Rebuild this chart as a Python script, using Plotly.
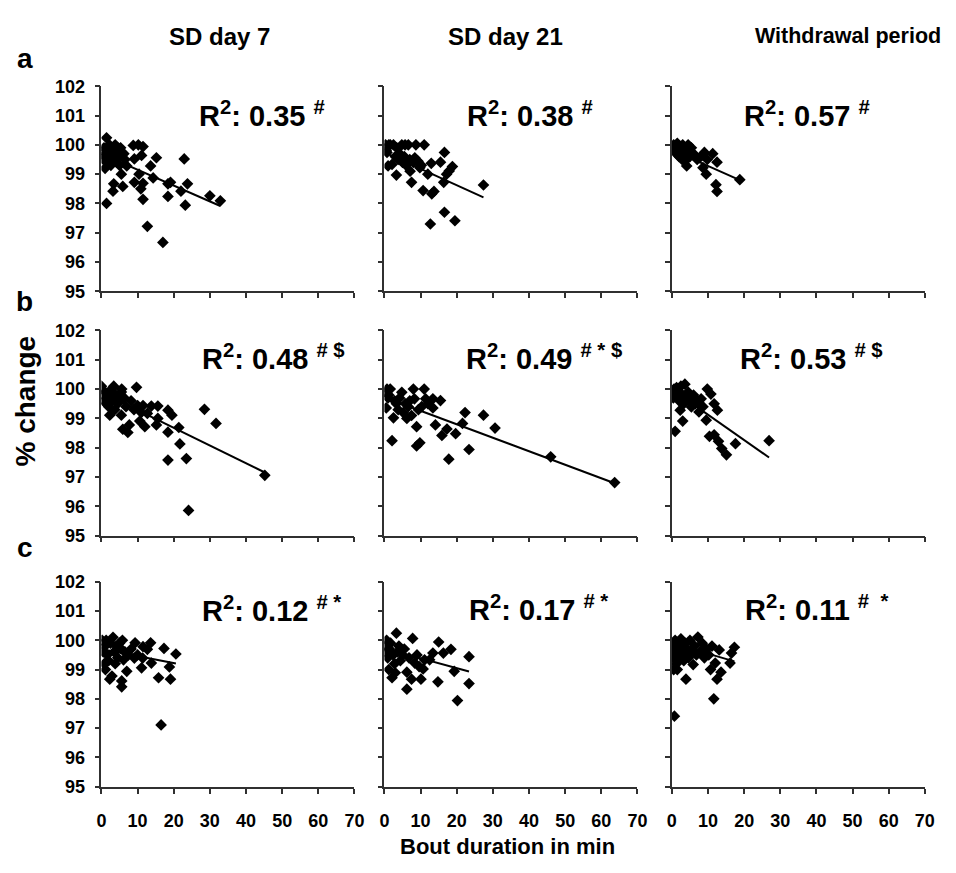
import numpy as np
import plotly.graph_objects as go

# ---- Bout duration (min) vs % change, per condition ----
# Row a
a_sd7_x = [0.3, 0.5, 0.7, 0.9, 1.0, 1.2, 1.4, 1.4, 1.6, 1.8, 2.0, 2.2, 2.4, 2.6, 2.8, 3.0, 3.2, 3.4, 3.5, 3.8,
           4.0, 4.2, 4.5, 4.8, 5.0, 5.3, 5.5, 5.9, 6.2, 6.5, 7.0, 8.8, 9.1, 9.1, 10.2, 10.4, 10.9, 11.1, 11.5, 11.5,
           11.5, 12.7, 13.6, 14.3, 15.2, 17.0, 18.4, 18.4, 19.1, 22.0, 22.9, 23.2, 23.8, 30.0, 32.9]
a_sd7_y = [99.8, 99.5, 99.9, 99.6, 99.2, 99.7, 100.24, 98.0, 99.9, 99.4, 99.8, 100.0, 99.6, 99.3, 99.9, 99.7, 98.42,
           98.67, 99.5, 100.0, 99.8, 99.4, 99.9, 99.6, 99.3, 99.9, 99.0, 98.58, 99.7, 99.5, 99.28, 99.98, 99.52, 98.72,
           100.0, 99.0, 98.5, 99.64, 99.94, 98.69, 98.14, 97.22, 99.28, 98.87, 99.56, 96.67, 98.67, 98.24, 98.72,
           98.42, 99.52, 97.94, 98.67, 98.26, 98.09]

a_sd21_x = [0.3, 0.5, 0.7, 1.0, 1.2, 1.6, 2.1, 2.5, 3.0, 3.3, 3.4, 3.8, 4.2, 4.8, 5.0, 5.5, 5.7, 6.0, 6.6, 7.0,
            7.1, 7.5, 8.0, 8.4, 8.7, 9.3, 9.8, 10.2, 10.7, 11.0, 12.0, 12.7, 12.95, 13.1, 13.7, 15.5, 16.4, 16.6,
            16.6, 17.2, 17.9, 18.8, 19.5, 27.4]
a_sd21_y = [100.0, 99.8, 99.74, 99.28, 100.0, 100.0, 99.33, 100.0, 99.6, 98.97, 99.9, 99.5, 99.7, 100.0, 99.4, 99.6,
            100.0, 99.3, 100.0, 99.5, 99.1, 98.72, 99.4, 99.56, 100.0, 99.44, 99.22, 99.3, 98.44, 100.0, 99.0, 97.3,
            99.37, 98.33, 98.41, 99.41, 98.72, 99.74, 97.7, 99.0, 99.11, 99.26, 97.41, 98.63]

a_wd_x = [0.3, 0.5, 0.7, 1.0, 1.2, 1.5, 1.8, 2.0, 2.2, 2.5, 2.8, 3.0, 3.3, 3.6, 4.1, 4.3, 4.5, 5.0, 5.4, 6.0,
          7.0, 7.7, 8.6, 9.0, 9.5, 9.8, 11.3, 12.2, 12.5, 12.5, 18.8]
a_wd_y = [99.9, 100.0, 99.8, 99.95, 99.7, 100.05, 99.85, 99.6, 99.9, 99.75, 99.5, 100.0, 99.65, 99.44, 99.28, 99.8,
          100.0, 99.6, 99.9, 99.7, 99.5, 99.56, 99.22, 99.74, 99.0, 99.5, 99.7, 98.64, 99.41, 98.41, 98.81]

# Row b
b_sd7_x = [0.0, 0.4, 0.7, 1.0, 1.3, 1.6, 2.0, 2.3, 2.5, 2.8, 3.0, 3.4, 3.7, 4.0, 4.5, 5.0, 5.5, 5.5, 5.6, 5.9,
           6.3, 6.8, 7.3, 7.7, 8.2, 9.0, 9.7, 10.0, 10.6, 11.0, 11.5, 12.0, 12.7, 13.8, 15.2, 15.6, 15.6, 18.4,
           18.4, 18.4, 19.5, 21.4, 21.7, 23.5, 24.1, 28.5, 31.7, 45.2]
b_sd7_y = [100.1, 99.8, 99.6, 99.9, 99.5, 99.7, 99.4, 99.11, 99.9, 100.0, 99.6, 100.1, 99.3, 99.8, 99.5, 99.61,
           99.11, 99.9, 100.0, 98.63, 99.7, 99.4, 98.52, 98.78, 99.6, 99.3, 100.06, 99.44, 98.91, 99.2, 99.44, 98.72,
           99.17, 99.42, 98.78, 99.42, 99.0, 99.28, 98.53, 97.58, 99.11, 98.69, 98.13, 97.63, 95.86, 99.31, 98.83,
           97.06]

b_sd21_x = [0.3, 0.5, 0.7, 1.0, 1.2, 1.6, 2.1, 2.5, 2.8, 3.3, 3.8, 4.2, 4.8, 5.2, 5.8, 6.2, 6.6, 7.0, 7.5, 8.0,
            8.3, 8.9, 8.9, 9.4, 9.8, 10.3, 11.0, 11.4, 12.0, 13.4, 13.4, 14.1, 15.5, 15.9, 17.3, 17.8, 19.7, 21.6,
            22.3, 23.4, 27.4, 30.6, 46.0, 63.7]
b_sd21_y = [99.9, 99.36, 100.0, 99.7, 99.8, 100.0, 98.24, 99.02, 99.6, 99.5, 99.3, 99.7, 99.89, 99.2, 99.5, 99.0,
            99.4, 99.6, 99.1, 100.0, 99.67, 98.72, 98.06, 99.3, 98.17, 99.4, 100.0, 99.67, 99.5, 99.67, 99.36, 98.78,
            99.61, 98.42, 98.64, 97.61, 98.48, 98.83, 99.2, 97.94, 99.11, 98.67, 97.69, 96.81]

b_wd_x = [0.2, 0.4, 0.6, 0.9, 1.0, 1.3, 1.6, 2.0, 2.3, 2.5, 3.0, 3.0, 3.3, 3.6, 4.0, 4.5, 5.0, 5.4, 6.0, 6.5,
          7.0, 7.5, 8.1, 8.6, 9.5, 9.8, 10.4, 10.8, 11.7, 11.7, 12.6, 12.9, 13.8, 15.1, 17.6, 26.9]
b_wd_y = [99.9, 99.7, 100.0, 98.56, 99.8, 100.05, 99.9, 99.6, 99.28, 100.1, 98.91, 99.8, 99.5, 100.17, 99.7, 99.9,
          99.6, 99.39, 99.8, 99.5, 99.6, 99.22, 99.67, 99.4, 98.94, 100.0, 98.39, 99.83, 98.44, 99.5, 99.28, 98.22,
          97.97, 97.76, 98.14, 98.24]

# Row c
c_sd7_x = [0.2, 0.5, 0.8, 1.0, 1.1, 1.3, 1.6, 2.0, 2.3, 2.5, 2.9, 3.2, 3.5, 3.8, 4.1, 4.5, 5.0, 5.5, 5.6, 5.6,
           5.8, 6.1, 6.5, 7.0, 7.5, 8.2, 9.1, 9.3, 10.0, 11.1, 11.4, 11.5, 12.7, 13.6, 13.8, 15.8, 16.5, 17.3,
           18.8, 19.1, 20.6]
c_sd7_y = [100.0, 99.6, 99.2, 99.8, 99.0, 100.0, 99.5, 99.3, 98.67, 99.9, 98.78, 100.1, 99.6, 99.2, 99.8, 99.4,
           99.9, 99.7, 98.61, 98.41, 100.0, 99.33, 99.6, 98.94, 99.5, 99.7, 99.39, 99.91, 99.5, 99.06, 99.39, 99.78,
           99.69, 99.91, 99.22, 98.72, 97.11, 99.72, 99.09, 98.67, 99.53]

c_sd21_x = [0.2, 0.4, 0.6, 0.9, 1.2, 1.4, 1.7, 2.1, 2.4, 2.8, 3.0, 3.3, 3.6, 4.0, 4.4, 5.0, 5.5, 6.2, 6.2, 6.8,
            7.5, 7.8, 8.4, 9.0, 9.6, 10.1, 10.7, 11.1, 12.5, 13.4, 14.8, 15.0, 16.3, 18.4, 19.3, 20.2, 23.4, 23.4]
c_sd21_y = [99.8, 99.6, 100.0, 99.4, 99.0, 99.7, 99.9, 98.72, 99.5, 99.2, 98.89, 100.24, 99.6, 99.8, 99.3, 99.5,
            99.7, 98.33, 98.91, 99.4, 98.67, 100.06, 99.22, 99.5, 99.1, 98.67, 99.02, 99.33, 99.33, 99.56, 98.58,
            99.94, 99.56, 99.69, 98.94, 97.94, 99.44, 98.52]

c_wd_x = [0.2, 0.4, 0.5, 0.7, 0.9, 1.1, 1.3, 1.5, 1.7, 2.0, 2.2, 2.5, 2.8, 3.0, 3.3, 3.6, 3.9, 4.2, 4.6, 5.0,
          5.4, 5.9, 6.3, 6.8, 7.2, 7.8, 8.4, 9.0, 9.6, 10.2, 10.7, 11.1, 11.6, 12.0, 12.5, 13.1, 13.6, 16.1, 16.5,
          17.3]
c_wd_y = [99.8, 99.4, 99.0, 97.41, 100.0, 99.6, 99.2, 99.0, 99.9, 99.7, 99.4, 100.05, 99.8, 99.5, 99.3, 99.9, 98.67,
          99.7, 99.4, 100.0, 99.6, 99.17, 99.8, 99.5, 100.11, 99.6, 99.9, 99.4, 99.7, 99.5, 99.0, 99.8, 98.0, 99.22,
          98.67, 99.67, 98.91, 99.22, 99.56, 99.76]

# Linear trend (slope, intercept) and R² labels, row-major a..c, SD7 / SD21 / withdrawal
trend_slope = [-0.054, -0.056, -0.055, -0.0605, -0.046, -0.0864, -0.024, -0.0336, -0.036]
trend_intercept = [99.69, 99.74, 99.83, 99.89, 99.72, 99.99, 99.70, 99.72, 99.90]
r2_values = ["0.35", "0.38", "0.57", "0.48", "0.49", "0.53", "0.12", "0.17", "0.11"]
r2_marks = ["#", "#", "#", "# $", "# * $", "# $", "# *", "# *", "#  *"]

column_titles = ["SD day 7", "SD day 21", "Withdrawal period"]
row_letters = ["a", "b", "c"]
x_ticks = [0, 10, 20, 30, 40, 50, 60, 70]
y_ticks = [95, 96, 97, 98, 99, 100, 101, 102]

series_x = [a_sd7_x, a_sd21_x, a_wd_x, b_sd7_x, b_sd21_x, b_wd_x, c_sd7_x, c_sd21_x, c_wd_x]
series_y = [a_sd7_y, a_sd21_y, a_wd_y, b_sd7_y, b_sd21_y, b_wd_y, c_sd7_y, c_sd21_y, c_wd_y]

# ---- layout geometry (pixels) ----
W, H = 956, 873
col_left = [98, 385.5, 677.5]
col_w = 257
row_top = [78, 328, 585]
row_h = 210
# where the R² text begins in each panel (data units)
label_x = [26.5, 22.3, 19.5, 27.2, 22, 18.3, 27.2, 22.9, 19.7]
label_y = [101.05, 101.05, 101.05, 101.1, 101.1, 101.1, 101.05, 101.1, 101.1]

FONT = "Arial, 'Liberation Sans', sans-serif"
NARROW = "'Liberation Sans Narrow', 'Arial Narrow', Arial, sans-serif"
AXIS_COLOR = "#303030"

fig = go.Figure()
layout = dict(
    width=W, height=H, margin=dict(l=0, r=0, t=0, b=0),
    paper_bgcolor="white", plot_bgcolor="white", showlegend=False,
    font=dict(family=FONT, color="black"),
)
annotations = []
tick_font = dict(size=18, weight="bold", color="black", family=NARROW)

for i in range(9):
    r, c = divmod(i, 3)
    n = i + 1
    xa = "x" if n == 1 else f"x{n}"
    ya = "y" if n == 1 else f"y{n}"
    x0 = col_left[c]
    top = row_top[r]
    layout["xaxis" if n == 1 else f"xaxis{n}"] = dict(
        domain=[x0 / W, (x0 + col_w) / W], anchor=ya, range=[0, 70],
        tickvals=x_ticks, showticklabels=(r == 2), ticks="outside", ticklen=5, tickwidth=1.5,
        tickcolor=AXIS_COLOR, showline=True, linecolor=AXIS_COLOR, linewidth=1.5,
        showgrid=False, zeroline=False, ticklabelstandoff=12, tickfont=tick_font,
    )
    layout["yaxis" if n == 1 else f"yaxis{n}"] = dict(
        domain=[1 - (top + row_h) / H, 1 - top / H], anchor=xa, range=[95, 102],
        tickvals=y_ticks, showticklabels=(c == 0), ticks="outside", ticklen=5, tickwidth=1.5,
        tickcolor=AXIS_COLOR, showline=True, linecolor=AXIS_COLOR, linewidth=1.5,
        showgrid=False, zeroline=False, ticklabelstandoff=6, tickfont=tick_font,
    )

    xs = np.array(series_x[i])
    ys = np.array(series_y[i])
    fig.add_trace(go.Scatter(
        x=xs, y=ys, mode="markers", xaxis=xa, yaxis=ya,
        marker=dict(symbol="diamond", size=9, color="black", line=dict(width=0)),
    ))
    fx = np.array([xs.min(), xs.max()])
    fy = trend_intercept[i] + trend_slope[i] * fx
    fig.add_trace(go.Scatter(
        x=fx, y=fy, mode="lines", xaxis=xa, yaxis=ya,
        line=dict(color="black", width=2),
    ))

    annotations.append(dict(
        xref=xa, yref=ya, x=label_x[i], y=label_y[i], xanchor="left", yanchor="middle",
        text=f"<b>R<sup>2</sup>: {r2_values[i]} <sup>{r2_marks[i]}</sup></b>",
        showarrow=False, font=dict(size=29, color="black", family=FONT),
    ))

# column headers
title_x = [218, 508, 856]
title_font = [FONT, FONT, NARROW]
title_size = [24, 24, 21.5]
for c, title in enumerate(column_titles):
    annotations.append(dict(
        xref="paper", yref="paper", x=title_x[c] / W, y=1 - 27 / H, xanchor="center", yanchor="middle",
        text=f"<b>{title}</b>", showarrow=False,
        font=dict(size=title_size[c], color="black", family=title_font[c]),
    ))

# row letters
for r, letter in enumerate(row_letters):
    ly = [50, 298, 550][r]
    annotations.append(dict(
        xref="paper", yref="paper", x=20 / W, y=1 - ly / H, xanchor="center", yanchor="middle",
        text=f"<b>{letter}</b>", showarrow=False, font=dict(size=28, color="black", family=FONT),
    ))

# shared axis titles
annotations.append(dict(
    xref="paper", yref="paper", x=21 / W, y=1 - 400 / H, xanchor="center", yanchor="middle",
    text="<b>% change</b>", textangle=-90, showarrow=False,
    font=dict(size=28, color="black", family=FONT),
))
annotations.append(dict(
    xref="paper", yref="paper", x=511 / W, y=1 - 856 / H, xanchor="center", yanchor="middle",
    text="<b>Bout duration in min</b>", showarrow=False,
    font=dict(size=22, color="black", family=FONT),
))

layout["annotations"] = annotations
fig.update_layout(**layout)
fig.write_html("out.html")
